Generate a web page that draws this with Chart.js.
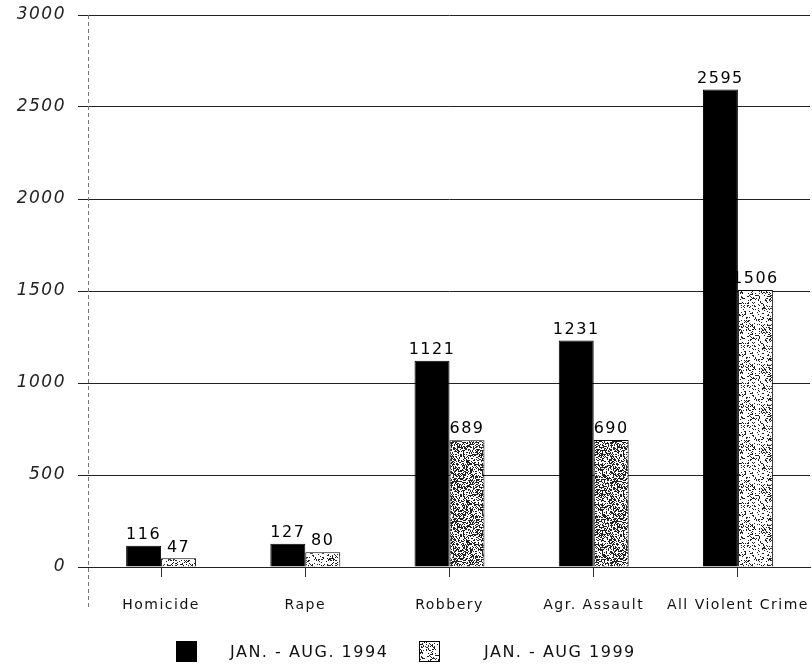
<!DOCTYPE html>
<html>
<head>
<meta charset="utf-8">
<script src="https://cdn.jsdelivr.net/npm/chart.js@4.4.1/dist/chart.umd.min.js"></script>
<style>
  html, body { margin: 0; padding: 0; background: #fff; }
  #wrap { width: 812px; height: 670px; position: relative; }
</style>
</head>
<body>
<div id="wrap"><canvas id="c" width="812" height="670"></canvas></div>
<script>
// Violent crime counts, January–August, by offence
const categories = ['Homicide', 'Rape', 'Robbery', 'Agr. Assault', 'All Violent Crime'];
const series1994 = [116, 127, 1121, 1231, 2595];
const series1999 = [47, 80, 689, 690, 1506];
const seriesNames = ['JAN. - AUG. 1994', 'JAN. - AUG 1999'];
const yTicks = [0, 500, 1000, 1500, 2000, 2500, 3000];

// Stippled fill used for the 1999 bars (deterministic speckle)
function makeStipple(density, seed) {
  const size = 40;
  const cv = document.createElement('canvas');
  cv.width = size; cv.height = size;
  const g = cv.getContext('2d');
  g.fillStyle = '#fff';
  g.fillRect(0, 0, size, size);
  g.fillStyle = '#222';
  let s = seed;
  const next = () => { s = (s * 1103515245 + 12345) & 0x7fffffff; return s / 0x7fffffff; };
  for (let y = 0; y < size; y++) {
    for (let x = 0; x < size; x++) {
      if (next() < density) g.fillRect(x, y, 1, 1);
    }
  }
  return g.createPattern(cv, 'repeat');
}
const stippleLight = makeStipple(0.22, 7);
const stippleDark = makeStipple(0.45, 13);
const fill1999 = [stippleLight, stippleLight, stippleDark, stippleDark, stippleLight];

const FONT = "'DejaVu Sans', sans-serif";

// Wide, airy lettering for all chart text
const letterSpacing = {
  id: 'letterSpacing',
  beforeDraw(chart) { chart.ctx.letterSpacing = '1.5px'; }
};

// Value labels above each bar
const valueLabels = {
  id: 'valueLabels',
  afterDatasetsDraw(chart) {
    const ctx = chart.ctx;
    ctx.save();
    ctx.font = '16px ' + FONT;
    ctx.fillStyle = '#000';
    ctx.textAlign = 'center';
    ctx.textBaseline = 'bottom';
    chart.data.datasets.forEach((ds, i) => {
      chart.getDatasetMeta(i).data.forEach((el, j) => {
        ctx.fillText(String(ds.data[j]), el.x, el.y - 3);
      });
    });
    ctx.restore();
  }
};

// Dashed left edge of the plotting area
const dashedLeftEdge = {
  id: 'dashedLeftEdge',
  beforeDatasetsDraw(chart) {
    const { ctx, chartArea } = chart;
    ctx.save();
    ctx.strokeStyle = '#777';
    ctx.lineWidth = 1;
    ctx.setLineDash([4, 3]);
    ctx.beginPath();
    ctx.moveTo(chartArea.left - 0.5, chartArea.top);
    ctx.lineTo(chartArea.left - 0.5, chartArea.bottom + 40);
    ctx.stroke();
    ctx.restore();
  }
};

// Legend row beneath the axis
const bottomLegend = {
  id: 'bottomLegend',
  afterDraw(chart, args, opts) {
    const ctx = chart.ctx;
    ctx.save();
    ctx.font = '16px ' + FONT;
    ctx.textBaseline = 'middle';
    ctx.textAlign = 'left';
    opts.items.forEach((it, i) => {
      const ds = chart.data.datasets[i];
      const fill = Array.isArray(ds.backgroundColor) ? ds.backgroundColor[0] : ds.backgroundColor;
      ctx.fillStyle = fill;
      ctx.fillRect(it.boxX, opts.boxY, opts.box, opts.box);
      ctx.strokeStyle = '#000';
      ctx.lineWidth = 1;
      ctx.strokeRect(it.boxX + 0.5, opts.boxY + 0.5, opts.box - 1, opts.box - 1);
      ctx.fillStyle = '#111';
      ctx.fillText(ds.label, it.textX, opts.boxY + opts.box / 2 + 1);
    });
    ctx.restore();
  }
};

new Chart(document.getElementById('c'), {
  type: 'bar',
  data: {
    labels: categories,
    datasets: [
      { label: seriesNames[0], data: series1994, backgroundColor: '#000', borderColor: '#000', borderWidth: 1 },
      { label: seriesNames[1], data: series1999, backgroundColor: fill1999, borderColor: '#000', borderWidth: 1 }
    ]
  },
  options: {
    responsive: false,
    animation: false,
    devicePixelRatio: 1,
    layout: { padding: { top: 15, right: 2, bottom: 53, left: 0 } },
    datasets: { bar: { barPercentage: 1, categoryPercentage: 0.485 } },
    plugins: {
      legend: { display: false },
      tooltip: { enabled: false },
      bottomLegend: {
        box: 21,
        boxY: 641,
        items: [ { boxX: 176, textX: 230 }, { boxX: 419, textX: 484 } ]
      }
    },
    scales: {
      x: {
        grid: { display: true, offset: false, drawOnChartArea: false, drawTicks: true, tickLength: 10, color: '#333' },
        border: { display: true, color: '#222', width: 1 },
        ticks: { color: '#111', font: { family: FONT, size: 14 }, padding: 20, maxRotation: 0, autoSkip: false },
        afterFit(scale) {
          scale.height = 50;
          scale.paddingLeft = 0;
          scale.paddingRight = 0;
        }
      },
      y: {
        min: 0,
        max: 3000,
        afterBuildTicks(scale) { scale.ticks = yTicks.map(v => ({ value: v })); },
        grid: { color: '#222', lineWidth: 1, drawTicks: true, tickLength: 11 },
        border: { display: false },
        ticks: {
          color: '#222',
          font: { family: FONT, size: 17, style: 'italic' },
          padding: 12,
          callback: (v) => String(v)
        },
        afterFit(scale) {
          scale.width = 89;
          scale.paddingTop = 0;
          scale.paddingBottom = 0;
        }
      }
    }
  },
  plugins: [letterSpacing, dashedLeftEdge, valueLabels, bottomLegend]
});
</script>
</body>
</html>
